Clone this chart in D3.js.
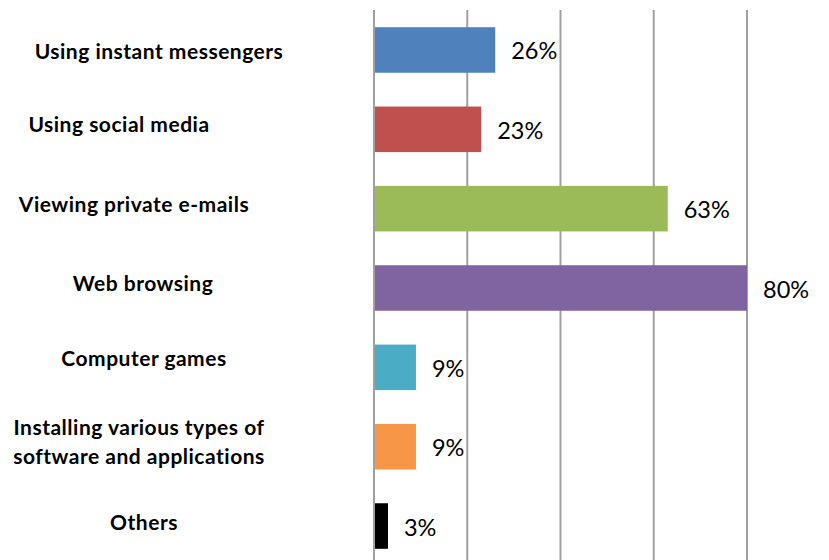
<!DOCTYPE html>
<html>
<head>
<meta charset="utf-8">
<script src="https://cdn.jsdelivr.net/npm/d3@7"></script>
<style>
  html, body { margin: 0; padding: 0; background: #fff; }
  svg { display: block; }
</style>
</head>
<body>
<svg id="chart" width="829" height="560"></svg>
<script>
// Activities (one bar each), share of respondents in percent
const categories = [
  "Using instant messengers",
  "Using social media",
  "Viewing private e-mails",
  "Web browsing",
  "Computer games",
  "Installing various types of\nsoftware and applications",
  "Others"
];
const values = [26, 23, 63, 80, 9, 9, 3];
const barColors = ["#4F81BD", "#C0504D", "#9BBB59", "#8064A2", "#4BACC6", "#F79646", "#000000"];
const gridTicks = [0, 20, 40, 60, 80];

// Layout
const W = 829, H = 560;
const plotLeft = 374, plotRight = 747, plotTop = 10;
const labelCenterX = 141;
// small per-label nudges of the category text (dx, dy)
const labelNudge = [[18, 6], [-22, 0], [-7, 0], [2, 0], [3, -4], [-2, 0], [3, 1]];

const svg = d3.select("#chart");

const x = d3.scaleLinear().domain([0, 80]).range([plotLeft, plotRight]);
const y = d3.scaleBand()
  .domain(categories)
  .range([10.3, 565.7])
  .paddingInner(0.426)
  .paddingOuter(0.213);

// vertical gridlines
svg.append("g")
  .selectAll("line")
  .data(gridTicks)
  .join("line")
  .attr("x1", d => x(d))
  .attr("x2", d => x(d))
  .attr("y1", plotTop)
  .attr("y2", H)
  .attr("stroke", "#a0a0a0")
  .attr("stroke-width", 2);

// bars
svg.append("g")
  .selectAll("rect")
  .data(values)
  .join("rect")
  .attr("x", x(0) + 1)
  .attr("y", (d, i) => y(categories[i]))
  .attr("width", d => x(d) - x(0) - 1)
  .attr("height", y.bandwidth())
  .attr("fill", (d, i) => barColors[i]);

// value labels
svg.append("g")
  .selectAll("text")
  .data(values)
  .join("text")
  .attr("x", d => x(d) + 16)
  .attr("y", (d, i) => y(categories[i]) + y.bandwidth() / 2 + 9.5)
  .attr("font-family", "Lato, 'Open Sans', sans-serif")
  .attr("font-size", 23.5)
  .attr("fill", "#000")
  .text(d => d + "%");

// category labels
const catG = svg.append("g");
categories.forEach((c, i) => {
  const lines = c.split("\n");
  const cy = y(c) + y.bandwidth() / 2;
  const lineGap = 29.5;
  const t = catG.append("text")
    .attr("text-anchor", "middle")
    .attr("font-family", "Lato, 'Open Sans', sans-serif")
    .attr("font-weight", "bold")
    .attr("font-size", 21)
    .attr("letter-spacing", 0.5)
    .attr("fill", "#000");
  lines.forEach((ln, k) => {
    const base = cy + 3 + (k - (lines.length - 1) / 2) * lineGap;
    t.append("tspan")
      .attr("x", labelCenterX + labelNudge[i][0])
      .attr("y", base + labelNudge[i][1])
      .text(ln);
  });
});
</script>
</body>
</html>
